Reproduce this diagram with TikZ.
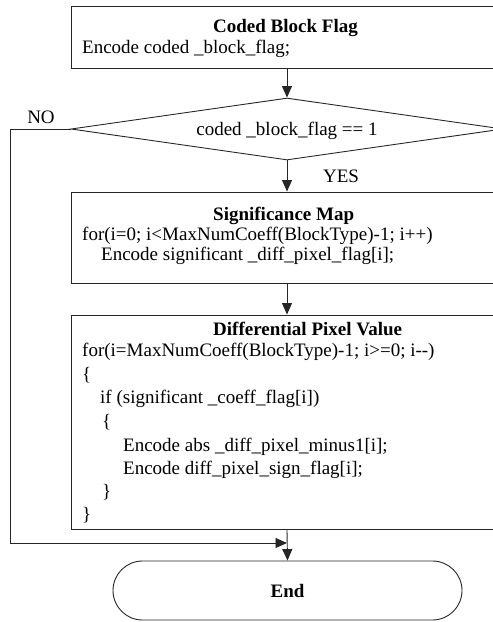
\documentclass[tikz,border=0pt]{standalone}
\usepackage{fontspec}
\setmainfont{Liberation Serif}
\usetikzlibrary{shapes.geometric,arrows.meta}
\begin{document}
\begin{tikzpicture}[x=1pt,y=-1pt,
  line/.style={draw=black!85, line width=0.9pt},
  box/.style={line, rectangle, inner sep=0pt, minimum width=431pt},
  arr/.style={line, -{Triangle[length=11.5pt,width=10pt]}},
  fnt/.style={font=\fontsize{19pt}{21pt}\selectfont},
  txt/.style={fnt, anchor=base west, inner sep=0pt},
  ttl/.style={txt, font=\fontsize{19pt}{21pt}\selectfont\bfseries},
  lbl/.style={fnt, anchor=base, inner sep=0pt}]
\useasboundingbox (0,0) rectangle (493,622);
\clip (0,0) rectangle (493,622);

% boxes
\node[box, minimum height=62pt] (b1) at (287,37) {};
\node[line, diamond, inner sep=0pt, minimum width=432pt, minimum height=62pt] (dec) at (287,129) {};
\node[box, minimum height=91pt] (b2) at (287,237.5) {};
\node[box, minimum height=214.5pt] (b3) at (287,422.25) {};
\node[line, rectangle, rounded corners=29.5pt, minimum width=349pt, minimum height=59pt,
      inner sep=0pt, font=\fontsize{19pt}{21pt}\selectfont\bfseries] (end) at (287.5,590.5) {End};

% box 1 text
\node[ttl] (t1) at (213,32) {Coded Block Flag};
\node[txt] (t1a) at (82,53) {Encode coded \_block\_flag;};

% decision text
\node[lbl] (dt) at (287,135) {coded \_block\_flag == 1};
\node[lbl] (no) at (41,123) {NO};
\node[lbl] (yes) at (341,182) {YES};

% box 2 text
\node[ttl] (t2) at (213,220) {Significance Map};
\node[txt] (t2a) at (82,240) {for(i=0; i<MaxNumCoeff(BlockType)-1; i++)};
\node[txt] (t2b) at (101,260) {Encode significant \_diff\_pixel\_flag[i];};

% box 3 text
\node[ttl] (t3) at (213,335) {Differential Pixel Value};
\node[txt] (t3a) at (82,356) {for(i=MaxNumCoeff(BlockType)-1; i>=0; i-{}-)};
\node[txt] (t3b) at (82,380) {\{};
\node[txt] (t3c) at (100,403) {if (significant \_coeff\_flag[i])};
\node[txt] (t3d) at (102,427) {\{};
\node[txt] (t3e) at (123,451) {Encode abs \_diff\_pixel\_minus1[i];};
\node[txt] (t3f) at (123,474) {Encode diff\_pixel\_sign\_flag[i];};
\node[txt] (t3g) at (102,497) {\}};
\node[txt] (t3h) at (82,520) {\}};

% connectors
\draw[arr] (b1.south) -- (dec.north);
\draw[arr] (dec.south) -- (b2.north);
\draw[arr] (b2.south) -- (b3.north);
\draw[arr] (b3.south) -- (end.north);
\coordinate (noleft) at (10,129);
\coordinate (nojoin) at (287,543);
\draw[arr] (dec.west) -- (noleft) |- (nojoin);
\end{tikzpicture}
\end{document}
